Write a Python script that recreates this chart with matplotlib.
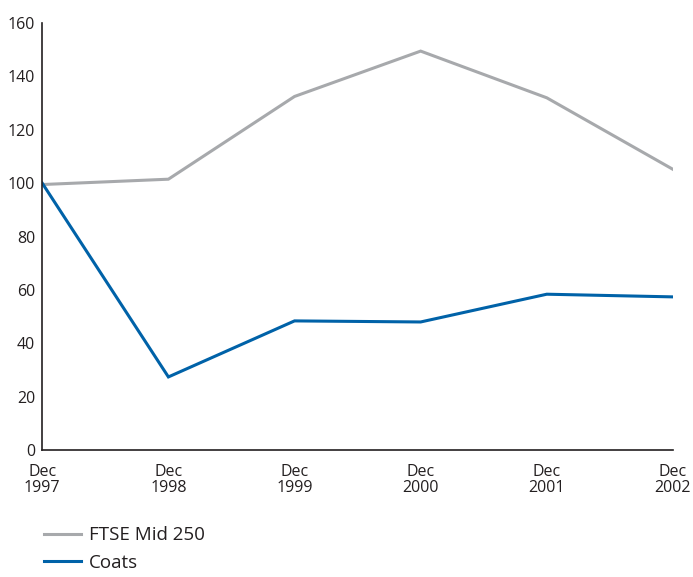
import matplotlib
matplotlib.use("Agg")
import matplotlib.pyplot as plt
from matplotlib.lines import Line2D

# Data
periods = ["Dec\n1997", "Dec\n1998", "Dec\n1999", "Dec\n2000", "Dec\n2001", "Dec\n2002"]
ftse_mid_250 = [99.5, 101.5, 132.5, 149.5, 132.0, 105.2]
coats = [100.0, 27.4, 48.4, 48.0, 58.4, 57.4]
y_ticks = [0, 20, 40, 60, 80, 100, 120, 140, 160]

grey = "#a7a9ac"
blue = "#0062a8"
text_col = "#231f20"

plt.rcParams["font.family"] = ["Open Sans", "DejaVu Sans"]

fig = plt.figure(figsize=(6.93, 5.77), dpi=100)
ax = fig.add_axes([0.061, 0.220, 0.910, 0.740])

x = list(range(len(periods)))
ax.plot(x, ftse_mid_250, color=grey, lw=2.2, solid_joinstyle="miter")
ax.plot(x, coats, color=blue, lw=2.2, solid_joinstyle="miter")

ax.set_xlim(0, len(periods) - 1)
ax.set_ylim(0, 160)
ax.set_yticks(y_ticks)
ax.set_xticks(x, periods)
ax.tick_params(length=0, labelsize=11.5, labelcolor=text_col)
ax.tick_params(axis="y", pad=5)
ax.tick_params(axis="x", pad=10)
for lab in ax.get_xticklabels():
    lab.set_linespacing(1.0)

for side in ["top", "right"]:
    ax.spines[side].set_visible(False)
for side in ["left", "bottom"]:
    ax.spines[side].set_color(text_col)
    ax.spines[side].set_linewidth(1.2)

handles = [Line2D([], [], color=grey, lw=2.2), Line2D([], [], color=blue, lw=2.2)]
fig.legend(handles, ["FTSE Mid 250", "Coats"], loc="lower left",
           bbox_to_anchor=(0.039, -0.020), frameon=False, fontsize=13.5,
           handlelength=2.0, handletextpad=0.4, labelspacing=0.5,
           labelcolor=text_col)

fig.savefig("out.png", dpi=100)
